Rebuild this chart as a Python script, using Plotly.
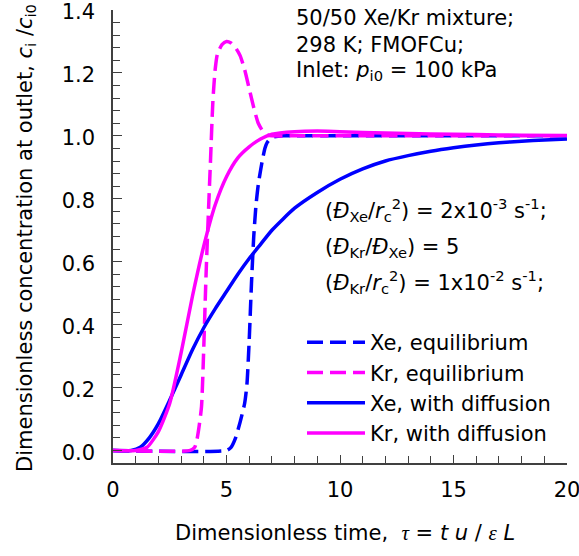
import plotly.graph_objects as go

# ---------------- data ----------------
xe_eq_x = [0, 5.0, 5.2, 5.4, 5.6, 5.8, 5.9, 6.0, 6.1, 6.2, 6.3, 6.4, 6.5, 6.6, 6.7, 6.8, 7.0, 7.5, 8, 10, 15, 20]
xe_eq_y = [0, 0, 0.01, 0.04, 0.09, 0.15, 0.21, 0.35, 0.53, 0.68, 0.78, 0.845, 0.89, 0.93, 0.962, 0.98, 0.995, 1.0, 1.0, 1.0, 1.0, 1.0]

kr_eq_x = [0, 3.4, 3.6, 3.7, 3.8, 3.9, 4.0, 4.1, 4.2, 4.3, 4.4, 4.5, 4.6, 4.8, 5.0, 5.2, 5.4, 5.6, 5.8, 6.0, 6.2, 6.4, 6.6, 6.8, 7.0, 8, 10, 15, 20]
kr_eq_y = [0, 0, 0.01, 0.035, 0.08, 0.14, 0.33, 0.56, 0.75, 0.93, 1.11, 1.21, 1.26, 1.29, 1.30, 1.295, 1.28, 1.255, 1.21, 1.15, 1.09, 1.04, 1.015, 1.003, 1.0, 1.0, 1.0, 1.0, 1.0]

xe_diff_x = [0, 0.8, 1.2, 1.6, 2.0, 2.5, 3.0, 3.5, 4.0, 4.5, 5.0, 5.5, 6.0, 6.5, 7.0, 8, 9, 10, 11, 12, 13, 14, 15, 16, 17, 18, 19, 20]
xe_diff_y = [0, 0, 0.01, 0.04, 0.085, 0.16, 0.24, 0.32, 0.39, 0.45, 0.505, 0.56, 0.61, 0.655, 0.70, 0.77, 0.82, 0.862, 0.895, 0.92, 0.937, 0.951, 0.962, 0.971, 0.978, 0.983, 0.987, 0.99]

kr_diff_x = [0, 1.0, 1.5, 2.0, 2.5, 3.0, 3.5, 4.0, 4.5, 5.0, 5.5, 6.0, 6.5, 7, 8, 9, 10, 12, 14, 16, 18, 20]
kr_diff_y = [0, 0, 0.01, 0.06, 0.15, 0.31, 0.49, 0.65, 0.78, 0.87, 0.93, 0.965, 0.99, 1.005, 1.013, 1.015, 1.013, 1.009, 1.006, 1.004, 1.002, 1.001]

series_names = ["Xe, equilibrium", "Kr, equilibrium", "Xe, with diffusion", "Kr, with diffusion"]

x_ticks = [0, 5, 10, 15, 20]
y_ticks = [0.0, 0.2, 0.4, 0.6, 0.8, 1.0, 1.2, 1.4]

# ---------------- styling ----------------
BLUE = "#0000FF"
MAG = "#FF00FF"
FONT = "DejaVu Sans, Liberation Sans, Arial, sans-serif"
FS = 21
FS_TICK = 21
FS_LEG = 21
LW = 3.5
DASH = "16px,7px"

W, H = 579, 556
ML, MR, MT, MB = 113, 12, 10, 93
PW, PH = W - ML - MR, H - MT - MB


def px2paper(px, py):
    return (px - ML) / PW, (H - MB - py) / PH


fig = go.Figure()
fig.add_trace(go.Scatter(x=xe_eq_x, y=xe_eq_y, mode="lines", name=series_names[0],
                         line=dict(color=BLUE, width=LW, dash=DASH, shape="spline", smoothing=0.6)))
fig.add_trace(go.Scatter(x=kr_eq_x, y=kr_eq_y, mode="lines", name=series_names[1],
                         line=dict(color=MAG, width=LW, dash=DASH, shape="spline", smoothing=0.6)))
fig.add_trace(go.Scatter(x=xe_diff_x, y=xe_diff_y, mode="lines", name=series_names[2],
                         line=dict(color=BLUE, width=LW, shape="spline", smoothing=0.6)))
fig.add_trace(go.Scatter(x=kr_diff_x, y=kr_diff_y, mode="lines", name=series_names[3],
                         line=dict(color=MAG, width=LW, shape="spline", smoothing=0.6)))

axis_col = "#404040"
fig.update_xaxes(range=[0, 20], tickmode="array", tickvals=x_ticks, ticktext=[str(v) for v in x_ticks],
                 ticks="inside", ticklen=8, tickwidth=1.3, tickcolor=axis_col,
                 minor=dict(dtick=1, tick0=0, ticks="inside", ticklen=7, tickwidth=1.3, tickcolor=axis_col),
                 showline=True, linecolor=axis_col, linewidth=1.5, showgrid=False, zeroline=False,
                 tickfont=dict(family=FONT, size=FS_TICK, color="black"), ticklabelstandoff=7,
                 ticklabeloverflow="allow", automargin=False)
fig.update_yaxes(range=[-0.04, 1.4], tickmode="array", tickvals=y_ticks, ticktext=[f"{v:.1f}" for v in y_ticks],
                 ticks="inside", ticklen=9, tickwidth=1.3, tickcolor=axis_col,
                 minor=dict(dtick=0.04, tick0=0, ticks="inside", ticklen=7, tickwidth=1.3, tickcolor=axis_col),
                 showline=True, linecolor=axis_col, linewidth=1.5, showgrid=False, zeroline=False,
                 tickfont=dict(family=FONT, size=FS_TICK, color="black"), ticklabelstandoff=12,
                 ticklabelshift=2, ticklabeloverflow="allow", automargin=False)

annos = []
def add_text(txt, px, py, xanchor="left", yanchor="middle", angle=0, size=FS):
    xp, yp = px2paper(px, py)
    annos.append(dict(text=txt, x=xp, y=yp, xref="paper", yref="paper", xanchor=xanchor, yanchor=yanchor,
                      showarrow=False, textangle=angle, font=dict(family=FONT, size=size, color="black")))

add_text("50/50 Xe/Kr mixture;", 294, 18)
add_text("298 K; FMOFCu;", 294, 45)
add_text("Inlet: <i>p</i><sub>i0</sub> = 100 kPa", 294, 71)
add_text("(<i>Đ</i><sub>Xe</sub>/<i>r</i><sub>c</sub><sup>2</sup>) = 2x10<sup>-3</sup> s<sup>-1</sup>;", 323, 210)
add_text("(<i>Đ</i><sub>Kr</sub>/<i>Đ</i><sub>Xe</sub>) = 5", 323, 248)
add_text("(<i>Đ</i><sub>Kr</sub>/<i>r</i><sub>c</sub><sup>2</sup>) = 1x10<sup>-2</sup> s<sup>-1</sup>;", 323, 282)
add_text("Dimensionless time,  <span style='font-family:Liberation Serif'><i>τ</i></span> = <i>t u</i> / "
         "<span style='font-family:Liberation Serif'><i>ε</i></span> <i>L</i>", 345, 533, xanchor="center")
add_text("Dimensionless concentration at outlet, <i>c</i><sub>i</sub> /<i>c</i><sub>i0</sub>", 26, 238,
         xanchor="center", angle=-90)

lx, ly = px2paper(302, 322)
fig.update_layout(
    width=W, height=H, margin=dict(l=ML, r=MR, t=MT, b=MB, autoexpand=False),
    paper_bgcolor="white", plot_bgcolor="white",
    font=dict(family=FONT, size=FS, color="black"),
    annotations=annos,
    legend=dict(x=lx, y=ly, xanchor="left", yanchor="top", bgcolor="rgba(0,0,0,0)",
                font=dict(family=FONT, size=FS_LEG, color="black"), itemwidth=58, tracegroupgap=0),
    showlegend=True,
)

fig.write_html("out.html")
